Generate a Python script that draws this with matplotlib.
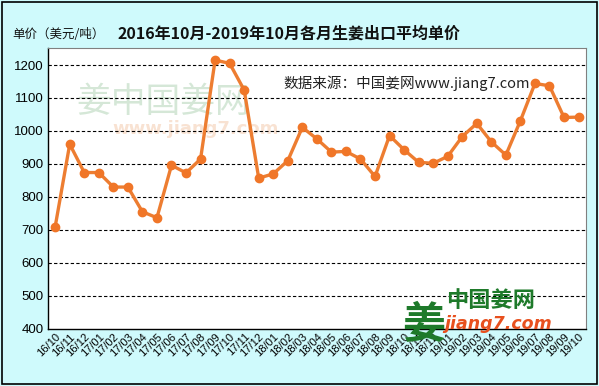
import matplotlib
matplotlib.use("Agg")
import matplotlib.pyplot as plt
from matplotlib.patches import Rectangle

plt.rcParams['font.family'] = ['Noto Sans CJK SC', 'DejaVu Sans']

months = ["16/10", "16/11", "16/12",
          "17/01", "17/02", "17/03", "17/04", "17/05", "17/06", "17/07", "17/08", "17/09", "17/10", "17/11", "17/12",
          "18/01", "18/02", "18/03", "18/04", "18/05", "18/06", "18/07", "18/08", "18/09", "18/10", "18/11", "18/12",
          "19/01", "19/02", "19/03", "19/04", "19/05", "19/06", "19/07", "19/08", "19/09", "19/10"]
prices = [710, 960, 874, 874, 830, 830, 755, 737, 896, 873, 915, 1215, 1205, 1124, 857,
          870, 910, 1011, 976, 936, 938, 915, 862, 986, 943, 905, 902,
          923, 983, 1023, 967, 927, 1031, 1144, 1137, 1041, 1042]
yticks = [400, 500, 600, 700, 800, 900, 1000, 1100, 1200]

fig = plt.figure(figsize=(5.99, 3.86), dpi=100)
fig.patch.set_facecolor('#CFFAFC')
fig.patches.append(Rectangle((0.003, 0.004), 0.994, 0.992, transform=fig.transFigure,
                             fill=False, edgecolor='black', linewidth=1.2))

ax = fig.add_axes([0.080, 0.148, 0.898, 0.728])
ax.set_facecolor('white')
x = list(range(len(months)))

for yv in yticks[1:]:
    ax.axhline(yv, color='black', linestyle=(0, (3, 2)), linewidth=0.8, zorder=1)

# watermark
ax.text(0.052, 0.805, "姜中国姜网", transform=ax.transAxes, fontsize=25, color='#2E8B3A',
        alpha=0.2, ha='left', va='center', zorder=0)
ax.text(0.12, 0.71, "www.jiang7.com", transform=ax.transAxes, fontsize=13, color='#E07020',
        alpha=0.2, ha='left', va='center', zorder=0, family=['DejaVu Sans'], fontweight='bold')

ax.plot(x, prices, color='#ED7D31', linewidth=2.4, marker='o', markersize=6,
        markerfacecolor='#F07628', markeredgecolor='#F07628', zorder=3)

ax.set_xlim(-0.5, len(months) - 0.5)
ax.set_ylim(400, 1252)
ax.set_yticks(yticks)
ax.set_yticklabels([str(v) for v in yticks], fontsize=9.5, family=['Liberation Sans'])
ax.set_xticks(x)
ax.set_xticklabels(months, rotation=45, ha='right', rotation_mode='anchor', fontsize=8,
                   family=['Liberation Sans'])
ax.tick_params(axis='both', length=0, pad=3)
ax.tick_params(axis='x', pad=2)
for side in ['left', 'bottom']:
    ax.spines[side].set_color('black')
    ax.spines[side].set_linewidth(1.0)
for side in ['top', 'right']:
    ax.spines[side].set_color('#808080')
    ax.spines[side].set_linewidth(0.8)

ax.text(0.437, 0.875, "数据来源：中国姜网www.jiang7.com", transform=ax.transAxes, fontsize=10.5,
        color='#222222', ha='left', va='center', zorder=4)

# logo bottom right
fig.text(0.672, 0.100, "姜", fontsize=31, color='#1E7A2A', fontweight='bold', ha='left', va='bottom', zorder=5)
fig.text(0.745, 0.192, "中国姜网", fontsize=16, color='#1E7A2A', fontweight='bold', ha='left', va='bottom', zorder=5)
fig.text(0.742, 0.138, "jiang7.com", fontsize=12.5, color='#E8501E', fontweight='bold', style='italic',
         ha='left', va='bottom', family=['DejaVu Sans'], zorder=5)

fig.text(0.483, 0.913, "2016年10月-2019年10月各月生姜出口平均单价", fontsize=11.5, fontweight='bold',
         ha='center', va='center', color='#111111')
fig.text(0.020, 0.910, "单价（美元/吨）", fontsize=9, ha='left', va='center', color='#111111')

fig.savefig("out.png", dpi=100, facecolor=fig.get_facecolor())
